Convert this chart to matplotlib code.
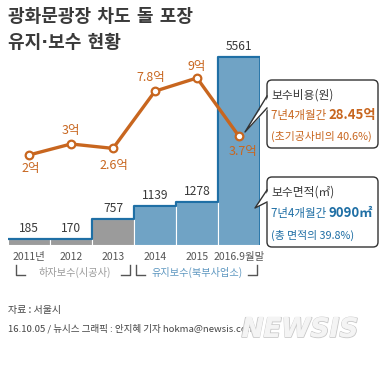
import matplotlib
matplotlib.use('Agg')
import matplotlib.pyplot as plt
from matplotlib.patches import FancyBboxPatch, Polygon
import matplotlib.patheffects as pe

plt.rcParams['font.family'] = ['Noto Sans CJK KR', 'DejaVu Sans']

# ---- data ----
years = ['2011년', '2012', '2013', '2014', '2015', '2016.9월말']
area = [185, 170, 757, 1139, 1278, 5561]          # 보수면적 (㎡)
cost = [2, 3, 2.6, 7.8, 9, 3.7]                  # 보수비용 (억원)
cost_labels = ['2억', '3억', '2.6억', '7.8억', '9억', '3.7억']
bar_colors = ['#9b9b9b', '#9b9b9b', '#9b9b9b', '#70a3c5', '#70a3c5', '#70a3c5']

ORANGE = '#c8661f'
BLUE = '#1f6fa5'
DARK = '#3a3a3a'

fig = plt.figure(figsize=(3.87, 3.65), dpi=100)
fig.patch.set_facecolor('white')

# ---- bars ----
ax = fig.add_axes([8 / 387, 120 / 365, 252 / 387, 205 / 365])
x = list(range(len(area)))
ax.bar(x, area, width=1.0, color=bar_colors, edgecolor='white', linewidth=0.8, zorder=1)
ax.step([i - 0.5 for i in x] + [x[-1] + 0.5], area + [area[-1]], where='post',
        color=BLUE, linewidth=1.6, zorder=2)
ax.plot([x[-1] + 0.5, x[-1] + 0.5], [0, area[-1]], color=BLUE, linewidth=1.2, zorder=2)
ax.set_xlim(-0.5, 5.5)
ax.set_ylim(0, 6064)
ax.axis('off')

for i, v in enumerate(area):
    ax.annotate(str(v), (i, v), xytext=(0, 3), textcoords='offset points',
                ha='center', va='bottom', fontsize=8.7, color=DARK)

for i, lab in enumerate(years):
    ax.annotate(lab, (i, 0), xytext=(0, -8.5), textcoords='offset points',
                ha='center', va='center', fontsize=7.5, color='#555555',
                annotation_clip=False)

# ---- cost line ----
ax2 = ax.twinx()
ax2.plot(x, cost, color=ORANGE, linewidth=2.4, marker='o', markersize=5.5,
         markerfacecolor='white', markeredgecolor=ORANGE, markeredgewidth=1.6, zorder=3)
ax2.set_ylim(-6.18, 12.45)
ax2.set_xlim(-0.5, 5.5)
ax2.axis('off')

offsets = [(1, -10), (0, 9.5), (1, -12), (-3, 9.5), (0, 8.5), (3, -11)]
for i, (lab, off) in enumerate(zip(cost_labels, offsets)):
    ax2.annotate(lab, (i, cost[i]), xytext=off, textcoords='offset points',
                 ha='center', va='center', fontsize=9, color=ORANGE)

# ---- decorations (pixel coordinates overlay) ----
ov = fig.add_axes([0, 0, 1, 1])
ov.set_xlim(0, 387)
ov.set_ylim(365, 0)
ov.axis('off')

title_font = ['DejaVu Sans', 'Noto Sans CJK KR']
ov.text(8, 17, '광화문광장 차도 돌 포장', fontsize=13, fontweight='bold', color=DARK,
        va='center', ha='left', family=title_font)
ov.text(8, 43, '유지·보수 현황', fontsize=13, fontweight='bold', color=DARK,
        va='center', ha='left', family=title_font)

# brackets below years
for x0, x1 in [(16, 130), (136, 257)]:
    ov.plot([x0, x0, x0 + 9], [265, 275, 275], color='#555555', lw=1)
    ov.plot([x1 - 9, x1, x1], [275, 275, 265], color='#555555', lw=1)
ov.text(75, 272, '하자보수(시공사)', fontsize=7.3, color='#9a9a9a', ha='center', va='center')
ov.text(197, 272, '유지보수(북부사업소)', fontsize=7.3, color='#5e97c0', ha='center', va='center')

# callout boxes
def callout(top, bottom, base, tip):
    box = FancyBboxPatch((267, top), 111, bottom - top,
                         boxstyle='round,pad=0,rounding_size=5',
                         facecolor='white', edgecolor='#333333', linewidth=1, zorder=5)
    ov.add_patch(box)
    tri = Polygon([(269, base[0]), tip, (269, base[1])], closed=True,
                  facecolor='white', edgecolor='none', zorder=6)
    ov.add_patch(tri)
    ov.plot([267, tip[0], 267], [base[0], tip[1], base[1]], color='#333333', lw=1, zorder=7)

callout(80, 148, (96, 108), (245, 132))
callout(177, 247, (190, 202), (255, 208))

ov.text(271, 95, '보수비용(원)', fontsize=8.5, color=DARK, va='center', zorder=8)
t1 = ov.text(271, 115, '7년4개월간 ', fontsize=8.3, color=ORANGE, va='center', zorder=8)
ov.annotate('28.45억', xy=(1, 0.5), xycoords=t1, fontsize=9.5, fontweight='bold',
            color=ORANGE, va='center', zorder=8)
ov.text(271, 136, '(초기공사비의 40.6%)', fontsize=7.8, color=ORANGE, va='center', zorder=8)

ov.text(271, 192, '보수면적(㎡)', fontsize=8.5, color=DARK, va='center', zorder=8)
t2 = ov.text(271, 213, '7년4개월간 ', fontsize=8.3, color=BLUE, va='center', zorder=8)
ov.annotate('9090㎡', xy=(1, 0.5), xycoords=t2, fontsize=9.5, fontweight='bold',
            color=BLUE, va='center', zorder=8)
ov.text(271, 235, '(총 면적의 39.8%)', fontsize=7.8, color=BLUE, va='center', zorder=8)

# footer
ov.text(8, 310, '자료 : 서울시', fontsize=7.2, color='#444444', va='center')
ov.text(8, 329, '16.10.05 / 뉴시스 그래픽 : 안지혜 기자 hokma@newsis.com', fontsize=6.9,
        color='#444444', va='center')
ov.text(300, 330, 'NEWSIS', fontsize=19, fontstyle='italic', fontweight='bold',
        color='#f2f2f2', ha='center', va='center', family='DejaVu Sans',
        path_effects=[pe.withStroke(linewidth=1.2, foreground='#c8c8c8')])
ov.text(300, 330, 'NEWSIS', fontsize=19, fontstyle='italic', fontweight='bold',
        color='#f4f4f4', ha='center', va='center', family='DejaVu Sans')

fig.savefig('out.png', dpi=100)
